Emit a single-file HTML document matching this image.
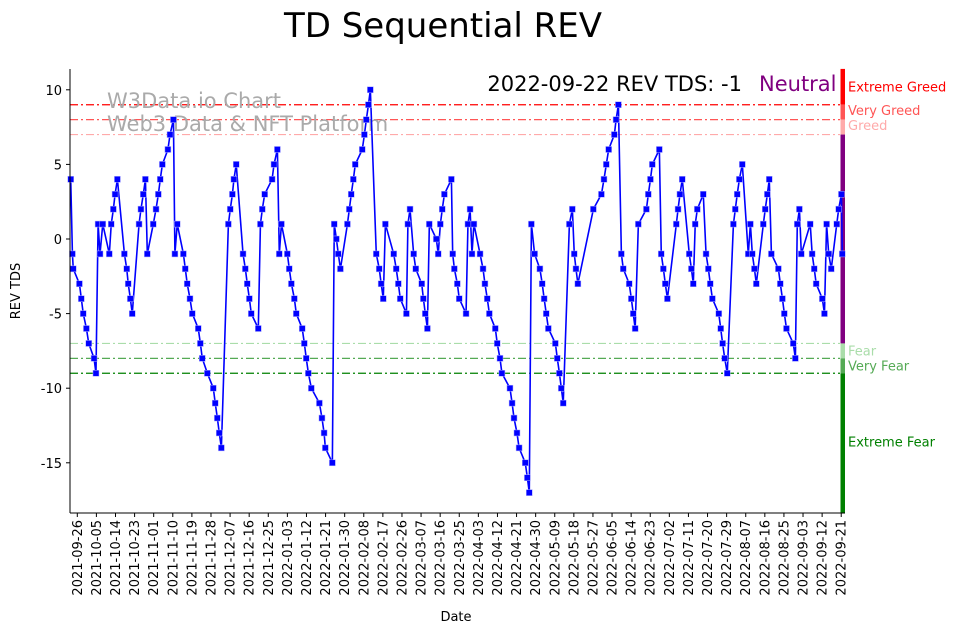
<!DOCTYPE html>
<html><head><meta charset="utf-8"><style>
html,body{margin:0;padding:0;background:#fff;}
svg{display:block;font-family:"DejaVu Sans","Liberation Sans",sans-serif;}
</style></head><body>
<svg id="chart" width="962" height="633" viewBox="0 0 962 633" xmlns="http://www.w3.org/2000/svg">
<text x="443" y="37" font-size="34" text-anchor="middle">TD Sequential REV</text>
<g id="gridlayer"></g>
<text x="107" y="108" font-size="21" fill="#aaa">W3Data.io Chart</text>
<text x="107" y="131" font-size="21" fill="#aaa">Web3 Data &amp; NFT Platform</text>
<text x="742" y="91" font-size="21" text-anchor="end">2022-09-22 REV TDS: -1</text>
<text x="759" y="91" font-size="21" fill="#800080">Neutral</text>
<g id="series"></g>
<g id="axes"></g>
<text transform="translate(20,291) rotate(-90)" font-size="13" text-anchor="middle">REV TDS</text>
<text x="456" y="621" font-size="13" text-anchor="middle">Date</text>
</svg>
<script>
const days = [-3.1,-2.3,-1.9,1.0,1.9,2.8,4.3,5.4,7.9,8.8,9.8,10.7,12.0,15.1,16.0,17.0,17.8,18.9,22.2,23.3,24.0,25.0,25.9,29.1,30.0,31.1,32.1,33.0,35.8,37.1,38.2,39.1,40.1,42.7,43.7,45.3,46.0,47.1,50.0,50.9,51.8,53.1,54.2,
57.0,58.0,58.9,61.3,64.1,65.0,66.0,66.9,67.9,71.2,72.1,73.1,73.8,74.9,78.1,79.2,80.1,81.1,82.0,85.3,86.3,87.2,88.3,91.8,92.7,94.3,95.2,96.2,99.0,99.9,100.9,102.3,103.2,106.0,107.0,107.9,108.9,110.3,114.1,
115.3,116.3,116.9,120.2,121.1,122.1,123.0,124.0,127.3,128.2,129.1,130.1,131.0,134.3,135.3,136.2,137.2,138.1,140.9,142.3,143.2,144.2,145.2,149.1,150.3,151.3,152.2,155.1,155.8,156.8,158.5,159.5,162.3,163.1,164.0,165.0,165.9,169.2,170.1,171.1,172.0,173.0,176.3,176.9,177.7,
179.1,180.0,183.2,184.1,185.1,186.0,186.9,189.8,191.2,192.1,193.2,194.2,197.0,197.9,199.2,200.1,203.9,204.9,205.8,207.2,208.2,211.1,212.1,213.0,214.0,215.5,218.0,219.1,220.0,221.0,222.0,225.3,226.2,227.2,228.1,229.0,231.9,233.3,234.2,235.0,235.9,
243.2,247.0,248.2,249.3,250.4,253.1,253.9,255.0,256.4,257.3,260.1,261.1,262.0,262.9,264.4,268.2,269.1,270.1,271.0,274.3,275.2,276.2,277.1,278.1,282.3,283.1,284.0,285.1,288.4,289.4,290.3,291.2,292.2,295.0,296.3,297.4,298.3,299.3,
302.3,303.2,304.1,305.1,306.3,309.2,310.1,311.0,312.0,313.4,316.2,317.2,318.1,319.1,320.0,323.3,324.2,325.2,326.1,327.1,330.4,331.3,332.3,333.2,334.2,337.4,338.4,339.3,340.3,341.2,345.4,346.3,347.3,348.2,351.1,352.1,353.1,354.1,355.3,357.9,358.8,360.1,360.5];
const tds = [4,-1,-2,-3,-4,-5,-6,-7,-8,-9,1,-1,1,-1,1,2,3,4,-1,-2,-3,-4,-5,1,2,3,4,-1,1,2,3,4,5,6,7,8,-1,1,-1,-2,-3,-4,-5,
-6,-7,-8,-9,-10,-11,-12,-13,-14,1,2,3,4,5,-1,-2,-3,-4,-5,-6,1,2,3,4,5,6,-1,1,-1,-2,-3,-4,-5,-6,-7,-8,-9,-10,-11,
-12,-13,-14,-15,1,0,-1,-2,1,2,3,4,5,6,7,8,9,10,-1,-2,-3,-4,1,-1,-2,-3,-4,-5,1,2,-1,-2,-3,-4,-5,-6,1,0,-1,1,2,3,4,-1,-2,
-3,-4,-5,1,2,-1,1,-1,-2,-3,-4,-5,-6,-7,-8,-9,-10,-11,-12,-13,-14,-15,-16,-17,1,-1,-2,-3,-4,-5,-6,-7,-8,-9,-10,-11,1,2,-1,-2,-3,
2,3,4,5,6,7,8,9,-1,-2,-3,-4,-5,-6,1,2,3,4,5,6,-1,-2,-3,-4,1,2,3,4,-1,-2,-3,1,2,3,-1,-2,-3,-4,
-5,-6,-7,-8,-9,1,2,3,4,5,-1,1,-1,-2,-3,1,2,3,4,-1,-2,-3,-4,-5,-6,-7,-8,1,2,-1,1,-1,-2,-3,-4,-5,1,-1,-2,1,2,3,-1];
const yTicks = [10,5,0,-5,-10,-15];
const xTickLabels = ["2021-09-26","2021-10-05","2021-10-14","2021-10-23","2021-11-01","2021-11-10","2021-11-19","2021-11-28","2021-12-07","2021-12-16","2021-12-25","2022-01-03","2022-01-12","2022-01-21","2022-01-30","2022-02-08","2022-02-17","2022-02-26","2022-03-07","2022-03-16","2022-03-25","2022-04-03","2022-04-12","2022-04-21","2022-04-30","2022-05-09","2022-05-18","2022-05-27","2022-06-05","2022-06-14","2022-06-23","2022-07-02","2022-07-11","2022-07-20","2022-07-29","2022-08-07","2022-08-16","2022-08-25","2022-09-03","2022-09-12","2022-09-21"];
const tickStepDays = 9;
const levelValues = [9,8,7,-7,-8,-9];
const levelNames = ["Extreme Greed","Very Greed","Greed","Fear","Very Fear","Extreme Fear"];
const levelColors = ["#ff0000","#ff5555","#ffaaaa","#aaddaa","#55aa55","#008000"];

const NS="http://www.w3.org/2000/svg";
const X0=77.3, PPD=2.122, Y0=239, PPU=14.92;
const L=70, R=845, T=69, B=513;
function xs(d){return X0+d*PPD;}
function ys(v){return Y0-v*PPU;}
function mk(tag,attrs,parent){const e=document.createElementNS(NS,tag);for(const k in attrs)e.setAttribute(k,attrs[k]);parent.appendChild(e);return e;}
const grid=document.getElementById('gridlayer'), ser=document.getElementById('series'), ax=document.getElementById('axes');

levelValues.forEach((v,i)=>{
  const ln=mk('line',{x1:L,x2:840,y1:ys(v),y2:ys(v),stroke:levelColors[i],'stroke-width':1.2,'stroke-dasharray':'8 3 2 3'},grid);
  
  
});
const barBands=[[11.4,9,"#ff0000"],[9,8,"#ff5555"],[8,7,"#ffaaaa"],[7,-7,"#800080"],[-7,-8,"#aaddaa"],[-8,-9,"#55aa55"],[-9,-18.4,"#008000"]];
barBands.forEach((b,i)=>{
  const r=mk('rect',{x:840.5,y:ys(b[0]),width:4.5,height:ys(b[1])-ys(b[0]),fill:b[2]},grid);
  
  
});
const labelVals=[9.9,8.3,7.3,-7.8,-8.8,-13.9];
levelNames.forEach((n,i)=>{
  const t=mk('text',{x:848,y:ys(labelVals[i]),'font-size':13,fill:levelColors[i]},grid);
  t.textContent=n;
  
  
});

let d='';
days.forEach((dd,i)=>{d+=(i?'L':'M')+xs(dd).toFixed(2)+','+ys(tds[i]).toFixed(2);});
const path=mk('path',{d:d,fill:'none',stroke:'#0000ff','stroke-width':1.6,'stroke-linejoin':'round'},ser);


days.forEach((dd,i)=>{
  const m=mk('rect',{x:xs(dd)-3,y:ys(tds[i])-3,width:6,height:6,fill:'#0000ff',stroke:'#aaaaff','stroke-width':0.5},ser);
  
  
});

const ya=mk('line',{x1:L,x2:L,y1:T,y2:B,stroke:'#000','stroke-width':1},ax);


const xa=mk('line',{x1:L,x2:R,y1:B,y2:B,stroke:'#000','stroke-width':1},ax);


yTicks.forEach(v=>{
  const tk=mk('line',{x1:L-4,x2:L,y1:ys(v),y2:ys(v),stroke:'#000'},ax);
  
  
  const t=mk('text',{x:L-8,y:ys(v)+5,'font-size':13,'text-anchor':'end'},ax);
  t.textContent=v;
  
  
});
xTickLabels.forEach((lab,i)=>{
  const x=xs(i*tickStepDays);
  const tk=mk('line',{x1:x,x2:x,y1:B,y2:B+4,stroke:'#000'},ax);
  
  
  const t=mk('text',{transform:'translate('+(x+4.5)+','+(B+7)+') rotate(-90)','font-size':13,'text-anchor':'end'},ax);
  t.textContent=lab;
  
  
});
</script>
</body></html>
